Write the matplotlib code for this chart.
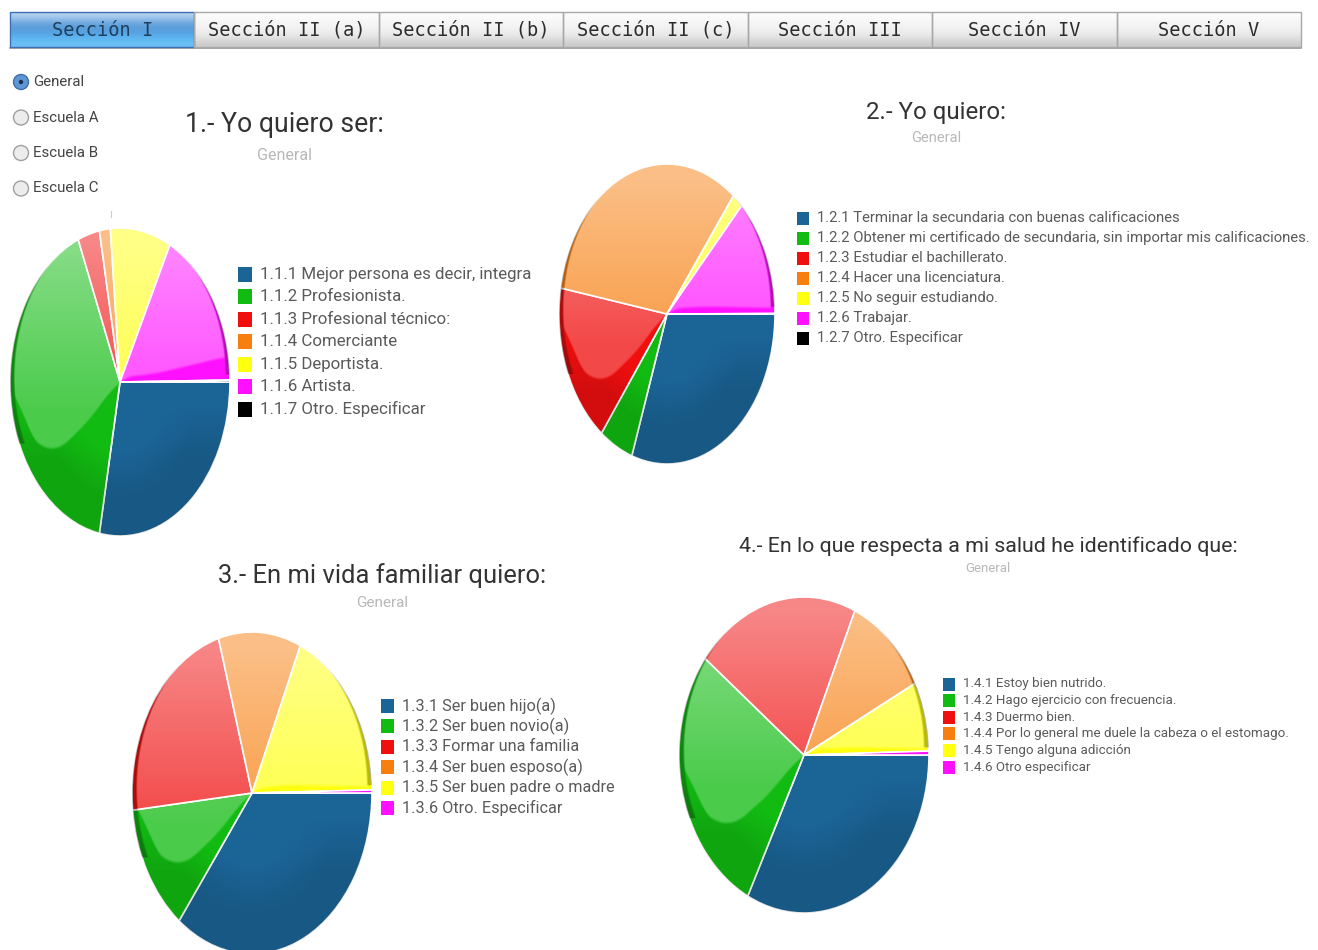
import numpy as np
import matplotlib
matplotlib.use('Agg')
import matplotlib.pyplot as plt
from matplotlib.patches import Rectangle, Circle

W, H = 1318, 950

# datos (porcentajes aproximados)
tabs = ['Sección I', 'Sección II (a)', 'Sección II (b)', 'Sección II (c)',
        'Sección III', 'Sección IV', 'Sección V']
radios = ['General', 'Escuela A', 'Escuela B', 'Escuela C']

colores = ['#1b6496', '#12bb12', '#f00f0f', '#f77f0f', '#ffff10', '#ff10ff', '#000000']

valores1 = [28.0, 40.8, 3.2, 1.6, 8.9, 17.3, 0.2]
valores2 = [30.3, 5.1, 17.4, 32.8, 1.6, 12.8, 0.05]
valores3 = [35.4, 12.9, 22.2, 11.1, 18.1, 0.3]
valores4 = [32.4, 28.0, 21.2, 10.8, 7.1, 0.4]

etiquetas1 = ['1.1.1 Mejor persona es decir, integra', '1.1.2 Profesionista.',
              '1.1.3 Profesional técnico:', '1.1.4 Comerciante', '1.1.5 Deportista.',
              '1.1.6 Artista.', '1.1.7 Otro. Especificar']
etiquetas2 = ['1.2.1 Terminar la secundaria con buenas calificaciones',
              '1.2.2 Obtener mi certificado de secundaria, sin importar mis calificaciones.',
              '1.2.3 Estudiar el bachillerato.', '1.2.4 Hacer una licenciatura.',
              '1.2.5 No seguir estudiando.', '1.2.6 Trabajar.', '1.2.7 Otro. Especificar']
etiquetas3 = ['1.3.1 Ser buen hijo(a)', '1.3.2 Ser buen novio(a)', '1.3.3 Formar una familia',
              '1.3.4 Ser buen esposo(a)', '1.3.5 Ser buen padre o madre', '1.3.6 Otro. Especificar']
etiquetas4 = ['1.4.1 Estoy bien nutrido.', '1.4.2 Hago ejercicio con frecuencia.',
              '1.4.3 Duermo bien.', '1.4.4 Por lo general me duele la cabeza o el estomago.',
              '1.4.5 Tengo alguna adicción', '1.4.6 Otro especificar']

titulos = ['1.- Yo quiero ser:', '2.- Yo quiero:', '3.- En mi vida familiar quiero:',
           '4.- En lo que respecta a mi salud he identificado que:']

plt.rcParams['font.family'] = ['Roboto', 'DejaVu Sans']
fig = plt.figure(figsize=(W / 100, H / 100), dpi=100)

# capa en pixeles para pestanas, titulos y leyendas
capa = fig.add_axes([0, 0, 1, 1], zorder=5)
capa.set_xlim(0, W)
capa.set_ylim(H, 0)
capa.axis('off')
capa.patch.set_alpha(0)


def pastel(valores, cx, cy, rx, ry, derecha=.03):
    ax = fig.add_axes([(cx - rx) / W, 1 - (cy + ry) / H, 2 * rx / W, 2 * ry / H])
    ax.pie(valores, colors=colores, startangle=0, counterclock=False, radius=1,
           wedgeprops={'edgecolor': '#ffffff', 'linewidth': 1.2}, normalize=True)
    eje = np.linspace(-1, 1, 500)
    xx, yy = np.meshgrid(eje, eje[::-1])
    rr = np.hypot(xx, yy)
    # brillo de arriba a la izquierda, con el limite suavizado
    curva = np.interp(eje, [-1, -.9, -.62, -.2, -.02, .3, 1], [.1, -.3, -.5, -.2, .02, .04, derecha])
    curva = np.convolve(np.pad(curva, 40, mode='edge'), np.ones(81) / 81, mode='valid')
    borde = curva[np.newaxis, :]
    interior = np.clip((1 - np.hypot(xx * 1.03, yy - .03)) / .015, 0, 1)
    mascara = np.clip((yy - borde) / .02, 0, 1) * interior
    brillo = np.ones(xx.shape + (4,))
    brillo[..., 3] = mascara * (.24 + .26 * np.clip((yy + .2) / 1.1, 0, 1))
    im = ax.imshow(brillo, extent=(-1, 1, -1, 1), aspect='auto', zorder=5)
    im.set_clip_path(Circle((0, 0), 1, transform=ax.transData))
    # parte baja y orilla mas oscuras
    oscuro = np.zeros(xx.shape + (4,))
    oscuro[..., 3] = .12 * np.clip((rr - .45) / .3, 0, 1) * np.clip((-.15 - yy) / .35, 0, 1) * (1 - mascara)
    oscuro[..., 3] += .28 * (1 - interior) * ((yy > .05) | ((xx < 0) & (yy > -.4)))
    im2 = ax.imshow(oscuro, extent=(-1, 1, -1, 1), aspect='auto', zorder=6)
    im2.set_clip_path(Circle((0, 0), 1, transform=ax.transData))
    ax.set_aspect('auto')
    ax.set_xlim(-1, 1)
    ax.set_ylim(-1, 1)
    return ax


def leyenda(etiquetas, x, y0, paso, lado, size):
    for i, et in enumerate(etiquetas):
        y = y0 + i * paso
        capa.add_patch(Rectangle((x, y - lado / 2), lado - 1, lado, fc=colores[i], ec='none'))
        capa.text(x + lado + 7, y, et, fontsize=size, color='#5a5a5a', va='center', ha='left')


pastel(valores1, 120, 382, 110, 154, derecha=.16)
pastel(valores2, 667, 314, 108, 150)
pastel(valores3, 252, 793, 120, 161)
pastel(valores4, 804, 755, 125, 158)

leyenda(etiquetas1, 238, 274, 22.5, 15, 12.2)
leyenda(etiquetas2, 797, 218, 20, 13, 10.7)
leyenda(etiquetas3, 381, 706, 20.4, 14, 11.7)
leyenda(etiquetas4, 943, 684, 16.6, 13, 9.6)

capa.text(284, 124, titulos[0], fontsize=19.2, color='#333333', ha='center', va='center')
capa.text(936, 112, titulos[1], fontsize=17.3, color='#333333', ha='center', va='center')
capa.text(382, 576, titulos[2], fontsize=18.4, color='#333333', ha='center', va='center')
capa.text(988, 546, titulos[3], fontsize=15.4, color='#333333', ha='center', va='center')
capa.text(284, 155, 'General', fontsize=11.6, color='#b8b8b8', ha='center', va='center')
capa.text(936, 138, 'General', fontsize=10.5, color='#b8b8b8', ha='center', va='center')
capa.text(382, 603, 'General', fontsize=11, color='#b8b8b8', ha='center', va='center')
capa.text(988, 569, 'General', fontsize=9.5, color='#b8b8b8', ha='center', va='center')

# pestanas
bordes = np.linspace(10, 1301, len(tabs) + 1)
gris = np.array([[.99], [.97], [.95], [.93], [.88], [.80]])
gris = np.repeat(gris[:, :, None], 3, axis=2)
azul = np.array([[[.72, .83, .94]], [[.50, .70, .90]], [[.36, .61, .84]], [[.33, .63, .88]],
                 [[.37, .72, .95]], [[.42, .75, .96]]])
for i, t in enumerate(tabs):
    capa.imshow(azul if i == 0 else gris, extent=(bordes[i], bordes[i + 1], 47, 12),
                aspect='auto', interpolation='bicubic', zorder=1)
    capa.add_patch(Rectangle((bordes[i], 12), bordes[i + 1] - bordes[i], 35, fc='none',
                             ec='#3f6fb5' if i == 0 else '#a8a8a8', lw=1, zorder=2))
    capa.text((bordes[i] + bordes[i + 1]) / 2, 30, t, fontsize=13.4, ha='center', va='center',
              family='DejaVu Sans Mono', color='#1d3f5f' if i == 0 else '#2c2c2c', zorder=3)
capa.set_xlim(0, W)
capa.set_ylim(H, 0)
capa.set_aspect('auto')
capa.plot([10, 1301], [48, 48], color='#999999', lw=1.2, zorder=1)

# botones de radio
for i, r in enumerate(radios):
    y = 82 + i * 35.5
    activo = i == 0
    capa.add_patch(Circle((21, y), 7.5, fc='#5f97d6' if activo else '#ececec',
                          ec='#3f6fa5' if activo else '#a0a0a0', lw=1))
    if activo:
        capa.add_patch(Circle((21, y), 2.2, fc='#1c2f4f', ec='none'))
    capa.text(33, y, r, fontsize=10.8, color='#444444', va='center', ha='left')
capa.plot([111, 111], [211, 217], color='#cccccc', lw=.8)

fig.savefig('out.png', dpi=100)
